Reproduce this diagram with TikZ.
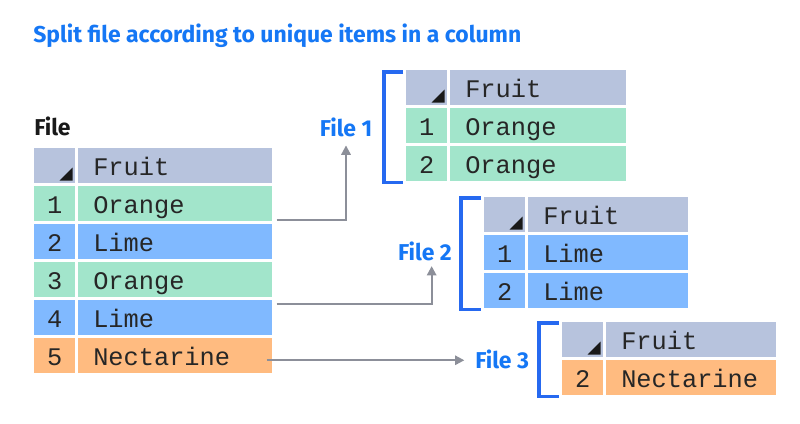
\documentclass[tikz,border=0pt]{standalone}
\usepackage{fontspec}
\setmainfont{Fira Sans}
\setmonofont{Liberation Mono}
\usetikzlibrary{arrows.meta}

\definecolor{headgray}{HTML}{B7C3DD}
\definecolor{orangerow}{HTML}{A2E5CB}
\definecolor{limerow}{HTML}{80B9FF}
\definecolor{nectarinerow}{HTML}{FFBB80}
\definecolor{fileblue}{HTML}{1577F5}
\definecolor{bracketblue}{HTML}{2669F0}
\definecolor{linkgray}{HTML}{8C8F99}

\tikzset{
  cell/.style={anchor=north west, inner ysep=0pt, minimum height=26.25pt,
    text height=14.25pt, text depth=0pt, text=black!85,
    font=\ttfamily\fontsize{19}{20}\selectfont},
  idx/.style={cell, inner xsep=0pt, minimum width=30.75pt},
  val/.style={cell, inner xsep=11.25pt, text width=#1, align=left},
  filelabel/.style={inner sep=0pt, text=fileblue, font=\bfseries\fontsize{17.2}{20}\selectfont},
  bracket/.style={draw=bracketblue, line width=2.5pt},
  link/.style={draw=linkgray, line width=1.5pt, shorten >=#1,
    -{Triangle[length=7pt,width=7pt]}, color=linkgray}
}

% header row: name, x, y, text width of the value column
\newcommand{\fruithead}[4]{
  \node[idx, fill=headgray] (#1h) at (#2,#3) {};
  \node[val=#4, fill=headgray] (#1hv) at (#2+44,#3) {Fruit};
  \fill[black!90] ([shift={(-3,-3)}]#1h.south east) -- ++(0,-13) -- ++(-13,13) -- cycle;
}

\begin{document}
\begin{tikzpicture}[x=0.75pt, y=-0.75pt]
  \fill[white] (0,0) rectangle (800,424);
  \useasboundingbox (0,0) rectangle (800,424);

  \node[anchor=base west, filelabel] (title) at (33,43)
    {Split file according to unique items in a column};

  % the whole file
  \node[anchor=base west, filelabel, text=black!90] (filename) at (34,136) {File};
  \fruithead{m}{34}{148}{123pt}
  \foreach \n/\fruit/\col in {1/Orange/orangerow, 2/Lime/limerow, 3/Orange/orangerow,
      4/Lime/limerow, 5/Nectarine/nectarinerow} {
    \node[idx, fill=\col] (m\n) at (34,148+38*\n) {\n};
    \node[val=123pt, fill=\col] (m\n v) at (78,148+38*\n) {\fruit};
  }

  % file 1
  \fruithead{a}{406}{70}{109.5pt}
  \foreach \n in {1,2} {
    \node[idx, fill=orangerow] (a\n) at (406,70+38*\n) {\n};
    \node[val=109.5pt, fill=orangerow] (a\n v) at (450,70+38*\n) {Orange};
  }
  \draw[bracket] ([shift={(-3,2)}]ah.north west) -- ++(-19,0) |- ([shift={(-3,1)}]a2.south west);
  \node[filelabel] (f1) at (346,127) {File 1};

  % file 2
  \fruithead{b}{484}{197}{97.5pt}
  \foreach \n in {1,2} {
    \node[idx, fill=limerow] (b\n) at (484,197+38*\n) {\n};
    \node[val=97.5pt, fill=limerow] (b\n v) at (528,197+38*\n) {Lime};
  }
  \draw[bracket] ([shift={(-3,1)}]bh.north west) -- ++(-20,0) |- ([shift={(-3,1)}]b2.south west);
  \node[filelabel] (f2) at (425,251) {File 2};

  % file 3
  \fruithead{c}{562}{322}{105pt}
  \node[idx, fill=nectarinerow] (c1) at (562,360) {2};
  \node[val=105pt, fill=nectarinerow] (c1v) at (606,360) {Nectarine};
  \draw[bracket] ([shift={(-3,1)}]ch.north west) -- ++(-20,0) |- ([shift={(-3,1)}]c1.south west);
  \node[filelabel, anchor=west] (f3) at (475,359) {File 3};

  % links
  \draw[link=6.5pt] ([shift={(4,-2)}]m1v.south east) -| (f1.south);
  \draw[link=4pt] ([shift={(4,4)}]m4v.north east) -| ([xshift=5]f2.south);
  \coordinate (l3) at ([shift={(-6,4.5)}]m5v.east);
  \draw[link=8pt] (l3) -- (l3 -| f3.west);
\end{tikzpicture}
\end{document}
